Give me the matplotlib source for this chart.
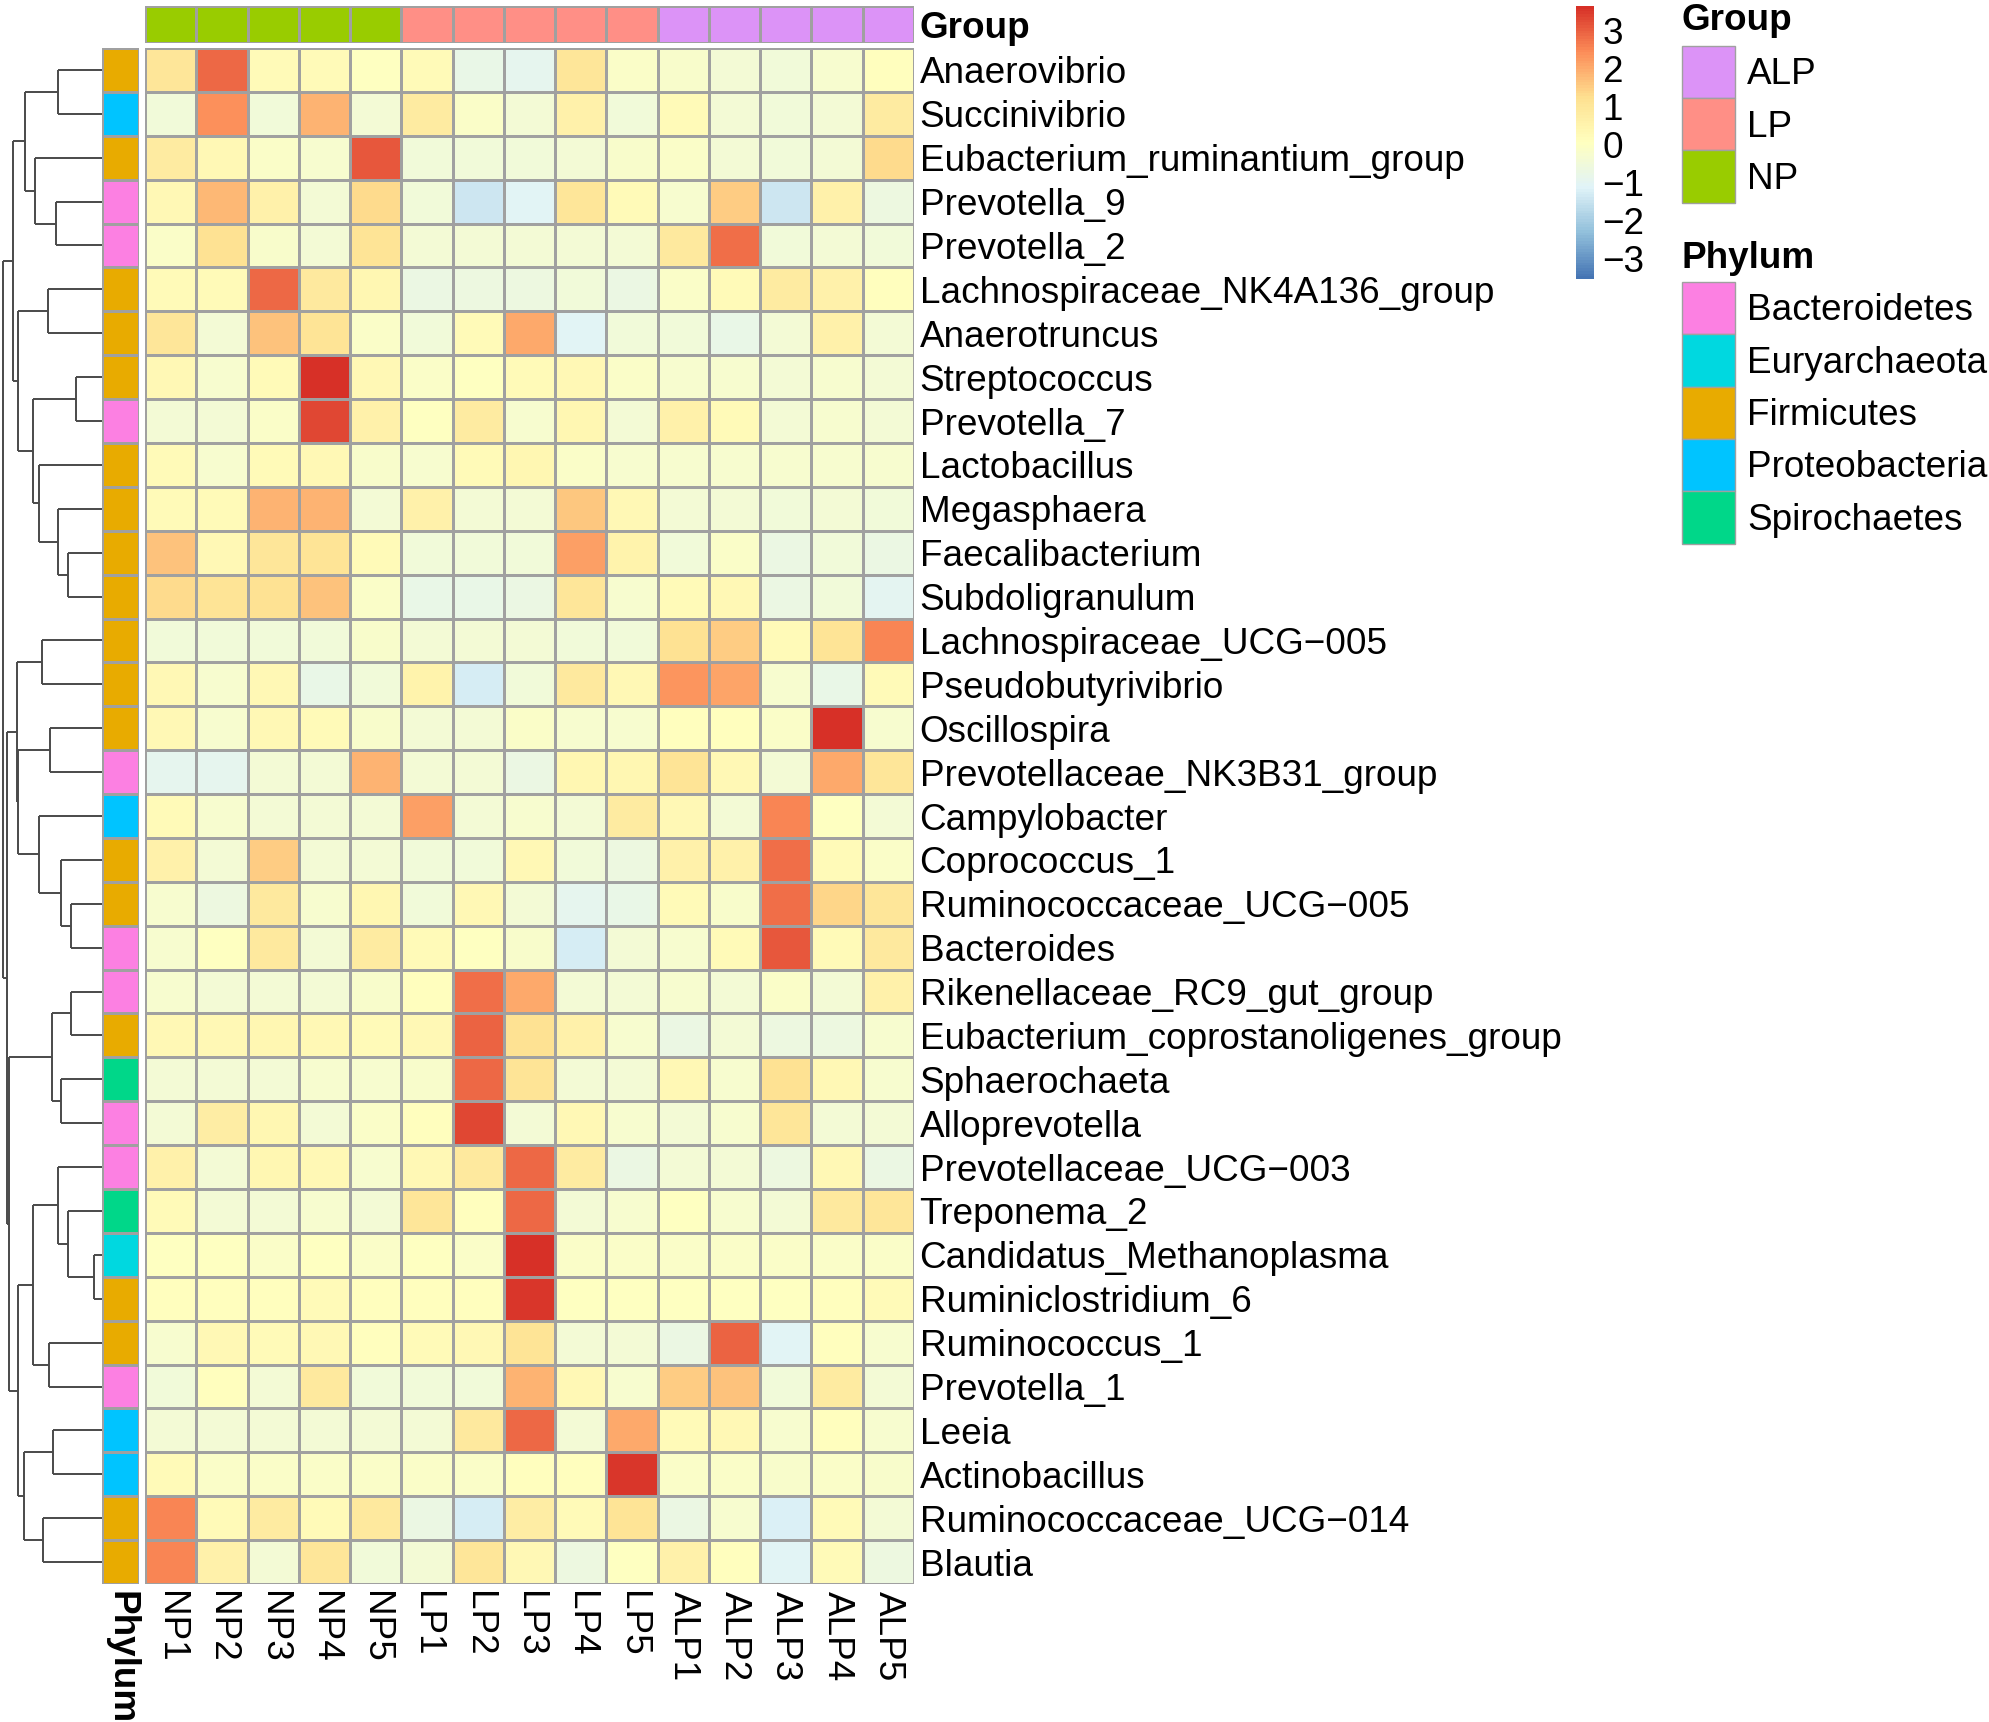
import numpy as np
import matplotlib
matplotlib.use('Agg')
import matplotlib.pyplot as plt
from matplotlib.colors import LinearSegmentedColormap, ListedColormap
from matplotlib.patches import Rectangle

plt.rcParams['font.family'] = ['Liberation Sans', 'DejaVu Sans']

# ---- data ----
samples = ['NP1', 'NP2', 'NP3', 'NP4', 'NP5',
           'LP1', 'LP2', 'LP3', 'LP4', 'LP5',
           'ALP1', 'ALP2', 'ALP3', 'ALP4', 'ALP5']
sample_group = ['NP'] * 5 + ['LP'] * 5 + ['ALP'] * 5

taxa = ['Anaerovibrio', 'Succinivibrio', 'Eubacterium_ruminantium_group',
        'Prevotella_9', 'Prevotella_2', 'Lachnospiraceae_NK4A136_group',
        'Anaerotruncus', 'Streptococcus', 'Prevotella_7', 'Lactobacillus',
        'Megasphaera', 'Faecalibacterium', 'Subdoligranulum',
        'Lachnospiraceae_UCG\u2212005', 'Pseudobutyrivibrio', 'Oscillospira',
        'Prevotellaceae_NK3B31_group', 'Campylobacter', 'Coprococcus_1',
        'Ruminococcaceae_UCG\u2212005', 'Bacteroides', 'Rikenellaceae_RC9_gut_group',
        'Eubacterium_coprostanoligenes_group', 'Sphaerochaeta', 'Alloprevotella',
        'Prevotellaceae_UCG\u2212003', 'Treponema_2', 'Candidatus_Methanoplasma',
        'Ruminiclostridium_6', 'Ruminococcus_1', 'Prevotella_1', 'Leeia',
        'Actinobacillus', 'Ruminococcaceae_UCG\u2212014', 'Blautia']

taxa_phylum = ['Firmicutes', 'Proteobacteria', 'Firmicutes', 'Bacteroidetes',
               'Bacteroidetes', 'Firmicutes', 'Firmicutes', 'Firmicutes',
               'Bacteroidetes', 'Firmicutes', 'Firmicutes', 'Firmicutes',
               'Firmicutes', 'Firmicutes', 'Firmicutes', 'Firmicutes',
               'Bacteroidetes', 'Proteobacteria', 'Firmicutes', 'Firmicutes',
               'Bacteroidetes', 'Bacteroidetes', 'Firmicutes', 'Spirochaetes',
               'Bacteroidetes', 'Bacteroidetes', 'Spirochaetes', 'Euryarchaeota',
               'Firmicutes', 'Firmicutes', 'Bacteroidetes', 'Proteobacteria',
               'Proteobacteria', 'Firmicutes', 'Firmicutes']

# row z-scores (NP1..NP5, LP1..LP5, ALP1..ALP5)
zscore = [
    [1.0, 2.9, 0.2, 0.2, 0.0, 0.2, -0.8, -0.9, 1.0, -0.1, -0.2, -0.4, -0.5, -0.3, 0.1],
    [-0.5, 2.4, -0.5, 1.9, -0.4, 0.8, -0.1, -0.4, 0.6, -0.5, 0.2, -0.4, -0.5, -0.4, 0.8],
    [0.8, 0.3, -0.1, -0.3, 3.1, -0.5, -0.5, -0.5, -0.4, -0.2, -0.1, -0.4, -0.5, -0.4, 1.3],
    [0.3, 1.8, 0.6, -0.4, 1.3, -0.5, -1.4, -1.1, 1.0, 0.2, -0.3, 1.5, -1.4, 0.6, -0.6],
    [-0.1, 1.2, -0.2, -0.4, 1.1, -0.4, -0.4, -0.4, -0.4, -0.4, 0.9, 2.8, -0.5, -0.4, -0.5],
    [0.2, 0.2, 2.9, 0.9, 0.4, -0.7, -0.6, -0.6, -0.5, -0.7, -0.1, 0.2, 0.8, 0.6, 0.1],
    [1.0, -0.4, 1.7, 1.1, -0.1, -0.5, 0.2, 2.0, -1.1, -0.5, -0.5, -0.8, -0.4, 0.6, -0.4],
    [0.3, -0.3, 0.2, 3.6, 0.3, -0.1, 0.0, 0.2, 0.3, -0.1, -0.3, -0.3, -0.4, -0.3, -0.4],
    [-0.4, -0.4, -0.1, 3.3, 0.6, 0.0, 0.8, -0.3, 0.4, -0.4, 0.6, 0.2, -0.4, -0.3, -0.4],
    [0.2, -0.3, 0.2, 0.3, -0.2, -0.3, 0.2, 0.4, -0.1, -0.3, -0.3, -0.3, -0.3, -0.3, -0.3],
    [0.2, 0.2, 1.9, 1.9, -0.4, 0.6, -0.4, -0.4, 1.6, 0.3, -0.4, -0.4, -0.5, -0.4, -0.5],
    [1.7, 0.3, 1.0, 1.1, 0.2, -0.5, -0.5, -0.5, 2.2, 0.5, -0.5, -0.1, -0.7, -0.5, -0.7],
    [1.3, 1.1, 1.2, 1.7, -0.1, -0.8, -0.8, -0.7, 1.0, -0.3, 0.2, 0.3, -0.7, -0.5, -1.0],
    [-0.5, -0.5, -0.5, -0.5, -0.2, -0.4, -0.4, -0.4, -0.5, -0.5, 1.2, 1.5, 0.2, 1.1, 2.5],
    [0.3, -0.3, 0.3, -0.8, -0.5, 0.5, -1.3, -0.5, 0.9, 0.3, 2.3, 2.1, -0.3, -0.8, 0.2],
    [0.3, -0.3, 0.3, 0.2, -0.2, -0.4, -0.4, -0.1, -0.3, -0.3, 0.1, 0.1, -0.1, 3.6, -0.3],
    [-0.9, -0.9, -0.4, -0.4, 1.9, -0.4, -0.4, -0.7, 0.4, 0.4, 1.1, 0.3, -0.4, 2.0, 1.0],
    [0.2, -0.3, -0.4, -0.4, -0.4, 2.2, -0.4, -0.3, -0.4, 0.8, 0.3, -0.4, 2.5, 0.0, -0.4],
    [0.6, -0.4, 1.5, -0.4, -0.4, -0.5, -0.5, 0.3, -0.5, -0.6, 0.6, 0.6, 2.8, 0.2, -0.1],
    [-0.3, -0.6, 0.9, -0.3, 0.4, -0.5, 0.3, -0.4, -0.9, -0.8, 0.2, -0.2, 2.8, 1.4, 1.0],
    [-0.3, 0.0, 0.9, -0.4, 0.8, 0.2, 0.0, -0.2, -1.3, -0.4, -0.3, 0.2, 3.1, 0.2, 0.9],
    [-0.3, -0.4, -0.4, -0.4, -0.2, 0.1, 2.8, 2.0, -0.4, -0.4, -0.3, -0.4, -0.1, -0.4, 0.6],
    [0.3, 0.3, 0.4, 0.3, 0.2, 0.3, 3.0, 1.2, 0.6, -0.3, -0.7, -0.4, -0.6, -0.6, -0.3],
    [-0.4, -0.4, -0.4, -0.3, -0.3, -0.2, 2.9, 1.1, -0.4, -0.4, 0.3, -0.3, 1.2, 0.3, -0.3],
    [-0.4, 0.7, 0.4, -0.4, -0.1, 0.1, 3.3, -0.4, 0.3, -0.3, -0.4, -0.3, 1.0, -0.4, -0.4],
    [0.6, -0.4, 0.4, 0.3, -0.3, 0.3, 0.9, 2.9, 0.8, -0.7, -0.4, -0.4, -0.6, 0.3, -0.7],
    [0.2, -0.4, -0.4, -0.3, -0.4, 1.0, 0.1, 2.9, -0.4, -0.3, 0.0, -0.3, -0.4, 0.9, 1.0],
    [0.0, 0.0, -0.1, 0.0, -0.1, 0.0, -0.1, 3.6, -0.1, -0.1, -0.1, -0.1, -0.1, -0.1, -0.1],
    [0.1, 0.1, 0.1, 0.2, 0.1, 0.1, 0.1, 3.55, 0.0, 0.0, 0.0, 0.0, 0.0, 0.1, 0.2],
    [-0.3, 0.3, 0.2, 0.3, 0.1, 0.2, 0.3, 1.1, -0.4, -0.4, -0.7, 3.0, -1.1, 0.1, -0.3],
    [-0.5, 0.1, -0.4, 0.9, -0.5, -0.5, -0.5, 1.9, 0.3, -0.3, 1.5, 1.7, -0.5, 0.8, -0.4],
    [-0.4, -0.4, -0.4, -0.4, -0.4, -0.4, 0.9, 2.9, -0.4, 2.0, 0.2, 0.3, -0.3, 0.1, -0.3],
    [0.2, -0.1, -0.1, -0.1, -0.1, -0.1, -0.1, 0.1, 0.1, 3.55, -0.1, -0.1, -0.2, -0.1, -0.2],
    [2.5, 0.2, 0.8, 0.2, 0.9, -0.7, -1.3, 0.7, 0.2, 1.1, -0.7, -0.3, -1.2, 0.2, -0.4],
    [2.5, 0.6, -0.4, 1.0, -0.5, -0.4, 1.0, 0.3, -0.6, 0.0, 0.6, 0.1, -1.1, 0.2, -0.6],
]

# row dendrogram: (merge height, left, right), leaves are row indices
tree_a = (88.4,
          (76.7, (43.4, 0, 1), (66.7, 2, (46.0, 3, 4))),
          (83.4, (54.0, 5, 6),
           (68.4, (25.7, 7, 8), (62.4, 9, (43.4, 10, (33.4, 11, 12))))))
tree_b1 = (85.0, (59.4, 13, 14),
           (83.4, (51.7, 15, 16), (62.4, 17, (41.0, 18, (30.7, 19, 20)))))
tree_c = (50.0, (30.7, 21, 22), (40.7, 23, 24))
tree_d = (83.4,
          (68.4, (44.0, 25, (34.0, 26, (7.4, 27, 28))), (52.4, 29, 30)),
          (77.7, (49.0, 31, 32), (58.4, 33, 34)))
row_tree = (98.4, tree_a, (94.4, tree_b1, (93.0, tree_c, tree_d)))

group_levels = ['ALP', 'LP', 'NP']
group_colors = ['#DC93F7', '#FF8F86', '#99CC00']
phylum_levels = ['Bacteroidetes', 'Euryarchaeota', 'Firmicutes',
                 'Proteobacteria', 'Spirochaetes']
phylum_colors = ['#FC80E2', '#00D8E0', '#E8AB00', '#00C4FF', '#00D789']

# ---- figure ----
W, H = 1989, 1722
fig = plt.figure(figsize=(W / 100, H / 100), dpi=100)


def px_axes(x0, y0, x1, y1):
    return fig.add_axes([x0 / W, 1 - y1 / H, (x1 - x0) / W, (y1 - y0) / H])


cmap = LinearSegmentedColormap.from_list(
    'rdylbu_r', ['#4575B4', '#91BFDB', '#E0F3F8', '#FFFFBF',
                 '#FEE090', '#FC8D59', '#D73027'], N=100)
grid_col = '#A0A0A0'
fs = 26.6

Z = np.array(zscore)
nrow, ncol = Z.shape

# main heatmap
ax = px_axes(145, 48, 914, 1584)
mesh = ax.pcolormesh(np.arange(ncol + 1), np.arange(nrow + 1), Z, cmap=cmap,
                     vmin=-3.55, vmax=3.65, edgecolors=grid_col, linewidth=1.0)
ax.set_xlim(0, ncol)
ax.set_ylim(nrow, 0)
ax.set_xticks(np.arange(ncol) + 0.5, samples, rotation=270, fontsize=fs)
ax.set_yticks(np.arange(nrow) + 0.5, taxa, fontsize=fs)
ax.yaxis.tick_right()
ax.tick_params(length=0)
ax.tick_params(axis='y', pad=4)
ax.tick_params(axis='x', pad=5)
for s in ax.spines.values():
    s.set_visible(False)

# phylum annotation column
axp = px_axes(102, 48, 139, 1584)
ph_idx = np.array([[phylum_levels.index(p)] for p in taxa_phylum])
axp.pcolormesh(np.arange(2), np.arange(nrow + 1), ph_idx,
               cmap=ListedColormap(phylum_colors), vmin=-0.5, vmax=4.5,
               edgecolors=grid_col, linewidth=1.0)
axp.set_xlim(0, 1)
axp.set_ylim(nrow, 0)
axp.set_yticks([])
axp.set_xticks([0.5], ['Phylum'], rotation=270, fontsize=fs, fontweight='bold')
axp.tick_params(length=0, pad=5)
for s in axp.spines.values():
    s.set_visible(False)

# group annotation bar
axg = px_axes(145, 6, 914, 43)
gr_idx = np.array([[group_levels.index(g) for g in sample_group]])
axg.pcolormesh(np.arange(ncol + 1), np.arange(2), gr_idx,
               cmap=ListedColormap(group_colors), vmin=-0.5, vmax=2.5,
               edgecolors=grid_col, linewidth=1.0)
axg.set_xlim(0, ncol)
axg.set_ylim(1, 0)
axg.set_xticks([])
axg.set_yticks([0.5], ['Group'], fontsize=fs, fontweight='bold')
axg.yaxis.tick_right()
axg.tick_params(length=0, pad=4)
for s in axg.spines.values():
    s.set_visible(False)

# row dendrogram
axd = px_axes(3.3, 48, 101.7, 1584)
axd.set_xlim(row_tree[0], 0)
axd.set_ylim(nrow, 0)
axd.set_axis_off()


def draw_tree(node):
    if isinstance(node, int):
        return node + 0.5, 0.0
    h, left, right = node
    y1, h1 = draw_tree(left)
    y2, h2 = draw_tree(right)
    kw = dict(color='#4a4a4a', lw=1.4, clip_on=False, solid_capstyle='butt')
    axd.plot([h1, h], [y1, y1], **kw)
    axd.plot([h2, h], [y2, y2], **kw)
    axd.plot([h, h], [y1, y2], **kw)
    return (y1 + y2) / 2, h


draw_tree(row_tree)

# colour key
cax = px_axes(1576, 6, 1594, 279)
cb = fig.colorbar(mesh, cax=cax, ticks=[-3, -2, -1, 0, 1, 2, 3])
cb.outline.set_visible(False)
cax.tick_params(length=0, pad=6, labelsize=fs)

# annotation legends
lax = fig.add_axes([0, 0, 1, 1])
lax.set_xlim(0, W)
lax.set_ylim(H, 0)
lax.set_axis_off()
lax.patch.set_alpha(0)


def legend_block(title, levels, colors, y_title, y_top):
    lax.text(1682, y_title, title, fontsize=fs, fontweight='bold', va='center')
    for k, (lev, col) in enumerate(zip(levels, colors)):
        y0 = y_top + k * 52.3
        lax.add_patch(Rectangle((1682, y0), 53, 52.3, facecolor=col,
                                edgecolor=grid_col, lw=1.0))
        lax.text(1747, y0 + 29, lev, fontsize=fs, va='center')


legend_block('Group', group_levels, group_colors, 21, 45.8)
legend_block('Phylum', phylum_levels, phylum_colors, 258, 282)

fig.savefig('out.png', dpi=100)
